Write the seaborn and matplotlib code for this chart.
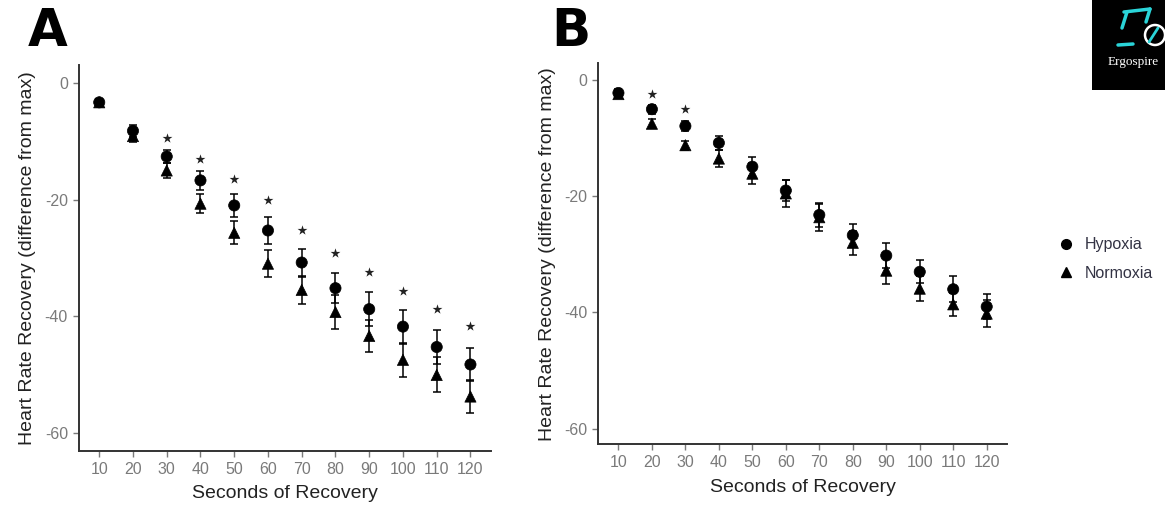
import numpy as np
import pandas as pd
import matplotlib
matplotlib.use("Agg")
import matplotlib.pyplot as plt
import matplotlib.patches as mpatches
from matplotlib.lines import Line2D
import seaborn as sns

# ---------------- data ----------------
seconds = [10, 20, 30, 40, 50, 60, 70, 80, 90, 100, 110, 120]

a_hypoxia = [-3.3, -8.2, -12.6, -16.7, -21.0, -25.3, -30.8, -35.2, -38.8, -41.8, -45.3, -48.3]
a_hypoxia_err = [0.5, 1.0, 1.1, 1.6, 1.9, 2.3, 2.4, 2.6, 2.9, 2.9, 3.0, 2.9]
a_normoxia = [-3.3, -9.1, -15.0, -20.7, -25.7, -31.0, -35.5, -39.3, -43.4, -47.5, -50.1, -53.8]
a_normoxia_err = [0.5, 1.0, 1.3, 1.6, 2.0, 2.3, 2.4, 2.9, 2.8, 2.9, 3.0, 2.8]
a_star_x = [30, 40, 50, 60, 70, 80, 90, 100, 110, 120]
a_star_y = [-9.5, -13.0, -16.4, -20.0, -25.2, -29.2, -32.4, -35.7, -38.7, -41.7]

b_hypoxia = [-2.2, -5.0, -7.9, -10.8, -14.9, -19.0, -23.2, -26.7, -30.2, -33.0, -36.0, -39.0]
b_hypoxia_err = [0.7, 0.8, 0.8, 1.2, 1.6, 1.8, 2.0, 2.0, 2.1, 2.0, 2.2, 2.1]
b_normoxia = [-2.4, -7.5, -11.2, -13.5, -16.1, -19.5, -23.6, -28.0, -32.8, -35.9, -38.6, -40.2]
b_normoxia_err = [0.7, 0.8, 0.8, 1.5, 1.8, 2.3, 2.3, 2.1, 2.3, 2.2, 2.0, 2.3]
b_star_x = [20, 30]
b_star_y = [-2.4, -5.0]

y_ticks = [0, -20, -40, -60]
groups = ["Hypoxia", "Normoxia"]
markers = {"Hypoxia": "o", "Normoxia": "^"}

# ---------------- figure ----------------
sns.set_theme(style="white")
plt.rcParams["font.family"] = ["Liberation Sans", "DejaVu Sans"]

fig = plt.figure(figsize=(11.65, 5.12), dpi=100)
axA = fig.add_axes([0.0678, 0.1197, 0.3534, 0.7533])
axB = fig.add_axes([0.5136, 0.1322, 0.3506, 0.7441])

spine_col = "#333333"
tick_col = "#7a7a7a"


def draw_panel(ax, hyp, hyp_err, nor, nor_err, star_x, star_y, ylim):
    df = pd.DataFrame({
        "Seconds": seconds * 2,
        "HRR": hyp + nor,
        "err": hyp_err + nor_err,
        "Condition": ["Hypoxia"] * len(seconds) + ["Normoxia"] * len(seconds),
    })
    for g, sub in df.groupby("Condition"):
        ax.errorbar(sub["Seconds"], sub["HRR"], yerr=sub["err"], fmt="none",
                    ecolor="black", elinewidth=1.1, capsize=3.2, capthick=1.1,
                    zorder=2)
    sns.scatterplot(data=df, x="Seconds", y="HRR", style="Condition",
                    markers=markers, color="black", s=65, edgecolor="black",
                    linewidth=0.5, legend=False, ax=ax, zorder=3)
    ax.scatter(star_x, star_y, marker="*", s=55, color="#222222",
               linewidths=0, zorder=3)
    ax.set_xlim(4, 126)
    ax.set_ylim(*ylim)
    ax.set_xticks(seconds)
    ax.set_xticklabels([str(s) for s in seconds])
    ax.set_yticks(y_ticks)
    ax.set_yticklabels([str(t) for t in y_ticks])
    for side in ["top", "right"]:
        ax.spines[side].set_visible(False)
    for side in ["left", "bottom"]:
        ax.spines[side].set_color(spine_col)
        ax.spines[side].set_linewidth(1.4)
    ax.tick_params(axis="both", which="both", bottom=True, left=True,
                   length=4, width=1.0, color=tick_col,
                   labelcolor=tick_col, labelsize=11.5, pad=4)
    ax.set_xlabel("Seconds of Recovery", fontsize=14, color="#222222",
                  labelpad=6)
    ax.set_ylabel("Heart Rate Recovery (difference from max)", fontsize=14,
                  color="#222222", labelpad=6)
    ax.grid(False)


draw_panel(axA, a_hypoxia, a_hypoxia_err, a_normoxia, a_normoxia_err,
           a_star_x, a_star_y, (-63.1, 3.1))
draw_panel(axB, b_hypoxia, b_hypoxia_err, b_normoxia, b_normoxia_err,
           b_star_x, b_star_y, (-62.7, 2.9))

# panel letters
fig.text(28 / 1165, 1 - 46 / 512, "A", fontsize=37, fontweight="bold",
         family=["DejaVu Sans"], color="black", ha="left",
         va="baseline")
fig.text(551 / 1165, 1 - 46 / 512, "B", fontsize=37, fontweight="bold",
         family=["DejaVu Sans"], color="black", ha="left",
         va="baseline")

# legend
handles = [Line2D([], [], marker=markers[g], linestyle="none", color="black",
                  markersize=7) for g in groups]
fig.legend(handles, groups, loc="center left",
           bbox_to_anchor=(1042 / 1165, 1 - 259 / 512), frameon=False,
           fontsize=11.5, labelcolor="#333344", handletextpad=0.6,
           labelspacing=0.85, handlelength=1.2)

# logo box (top-right)
fig.patches.append(mpatches.Rectangle((1092 / 1165, 1 - 90 / 512),
                                      73 / 1165, 90 / 512,
                                      transform=fig.transFigure,
                                      facecolor="black", edgecolor="none",
                                      zorder=0))
fig.patches.append(mpatches.Ellipse((1155 / 1165, 1 - 35 / 512),
                                    20 / 1165, 20 / 512,
                                    transform=fig.transFigure,
                                    facecolor="none", edgecolor="white",
                                    linewidth=1.8, zorder=1))
fig.lines.append(Line2D([1124 / 1165, 1150 / 1165], [1 - 12 / 512, 1 - 9 / 512],
                        transform=fig.transFigure, color="#2ad4d8",
                        linewidth=2.5))
fig.lines.append(Line2D([1150 / 1165, 1146 / 1165], [1 - 9 / 512, 1 - 22 / 512],
                        transform=fig.transFigure, color="#2ad4d8",
                        linewidth=2.5))
fig.lines.append(Line2D([1127 / 1165, 1122 / 1165], [1 - 12 / 512, 1 - 28 / 512],
                        transform=fig.transFigure, color="#2ad4d8",
                        linewidth=2.5))
fig.lines.append(Line2D([1118 / 1165, 1133 / 1165], [1 - 45 / 512, 1 - 44 / 512],
                        transform=fig.transFigure, color="#2ad4d8",
                        linewidth=2.5))
fig.lines.append(Line2D([1149 / 1165, 1158 / 1165], [1 - 42 / 512, 1 - 28 / 512],
                        transform=fig.transFigure, color="#2ad4d8",
                        linewidth=2.0))
fig.text(1108 / 1165, 1 - 62 / 512, "Ergospire", fontsize=9.5,
         family=["Liberation Serif", "DejaVu Serif"], color="white",
         ha="left", va="center")

fig.savefig("out.png", dpi=100)
